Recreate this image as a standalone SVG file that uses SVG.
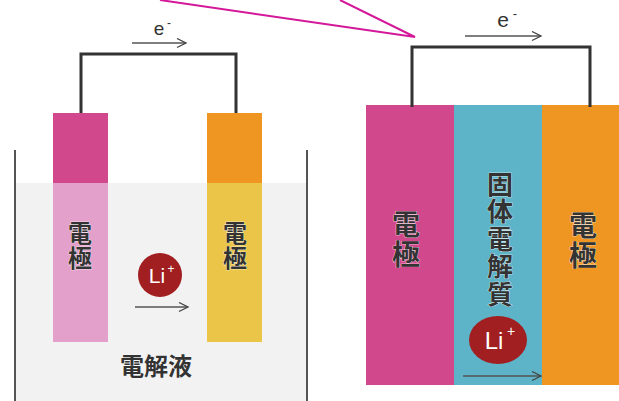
<svg xmlns="http://www.w3.org/2000/svg" width="619" height="401" viewBox="0 0 619 401">
<defs>
<marker id="ah" markerWidth="12" markerHeight="12" refX="10" refY="5" orient="auto" markerUnits="userSpaceOnUse">
<path d="M1,0.5 L10,5 L1,9.5" fill="none" stroke="#444" stroke-width="1.3"/>
</marker>
<style>
.wire{fill:none;stroke:#333;stroke-width:3}
.flow{fill:none;stroke:#555;stroke-width:1.4;marker-end:url(#ah)}
.call{fill:none;stroke:#d4189a;stroke-width:2}
.jp{font-family:"Noto Sans CJK JP","Noto Sans CJK SC",sans-serif;font-weight:bold;fill:#333;stroke:#fff;stroke-width:0.6;paint-order:stroke}
.h{text-anchor:middle}
.v{writing-mode:vertical-rl;text-anchor:start}
.lat{font-family:"Liberation Sans",Arial,sans-serif;text-anchor:middle}
.tank{stroke:#555;stroke-width:2}
</style>
</defs>
<rect width="619" height="401" fill="#ffffff"/>

<g id="callout">
<path class="call" d="M160,0 L415,37 L340,0"/>
</g>

<!-- Left: liquid electrolyte cell -->
<g id="electrolyte-tank">
<rect x="15" y="183" width="292" height="218" fill="#f2f2f2"/>
<line class="tank" x1="15" y1="150" x2="15" y2="401"/>
<line class="tank" x1="307" y1="150" x2="307" y2="401"/>
<text class="jp h" x="156" y="375" font-size="24">電解液</text>
</g>

<g id="left-anode">
<rect x="53" y="113" width="55" height="70" fill="#d2488c"/>
<rect x="53" y="183" width="55" height="159" fill="#e3a0cb"/>
<text class="jp v" x="80" y="221" font-size="24" letter-spacing="1">電極</text>
</g>

<g id="left-cathode">
<rect x="207" y="113" width="55" height="70" fill="#ef9522"/>
<rect x="207" y="183" width="55" height="159" fill="#eac548"/>
<text class="jp v" x="235" y="221" font-size="24" letter-spacing="1">電極</text>
</g>

<g id="left-li-ion">
<circle cx="160" cy="275" r="22" fill="#a11f20"/>
<text class="lat" x="157" y="283" font-size="21" fill="#fff">Li</text>
<text class="lat" x="171" y="273" font-size="12" fill="#fff">+</text>
</g>

<g id="left-e-label">
<text class="lat" x="159" y="35" font-size="19" fill="#333">e</text>
<text class="lat" x="169" y="27" font-size="12" fill="#333">-</text>
</g>

<!-- Right: solid state cell -->
<g id="right-anode">
<rect x="366" y="105" width="88" height="280" fill="#d2488c"/>
<text class="jp v" x="406" y="210" font-size="28" letter-spacing="2">電極</text>
</g>

<g id="solid-electrolyte">
<rect x="454" y="105" width="88" height="280" fill="#5db4c8"/>
<text class="jp v" x="500" y="171" font-size="26" letter-spacing="1.5">固体電解質</text>
</g>

<g id="right-cathode">
<rect x="542" y="105" width="77" height="280" fill="#ef9522"/>
<text class="jp v" x="583" y="211" font-size="28" letter-spacing="2">電極</text>
</g>

<g id="right-li-ion">
<ellipse cx="498" cy="340" rx="29" ry="24" fill="#a11f20"/>
<text class="lat" x="494" y="349" font-size="24" fill="#fff">Li</text>
<text class="lat" x="511" y="336" font-size="14" fill="#fff">+</text>
</g>

<g id="right-e-label">
<text class="lat" x="503" y="27" font-size="21" fill="#333">e</text>
<text class="lat" x="515" y="18" font-size="13" fill="#333">-</text>
</g>

<g id="connectors">
<path class="wire" d="M81,113 L81,54 L236,54 L236,113"/>
<line class="flow" x1="132" y1="43" x2="186" y2="43"/>
<line class="flow" x1="135" y1="307" x2="188" y2="307"/>
<path class="wire" d="M412,107 L412,47 L590,47 L590,107"/>
<line class="flow" x1="465" y1="36" x2="541" y2="36"/>
<line class="flow" x1="463" y1="376" x2="541" y2="376"/>
</g>
</svg>
